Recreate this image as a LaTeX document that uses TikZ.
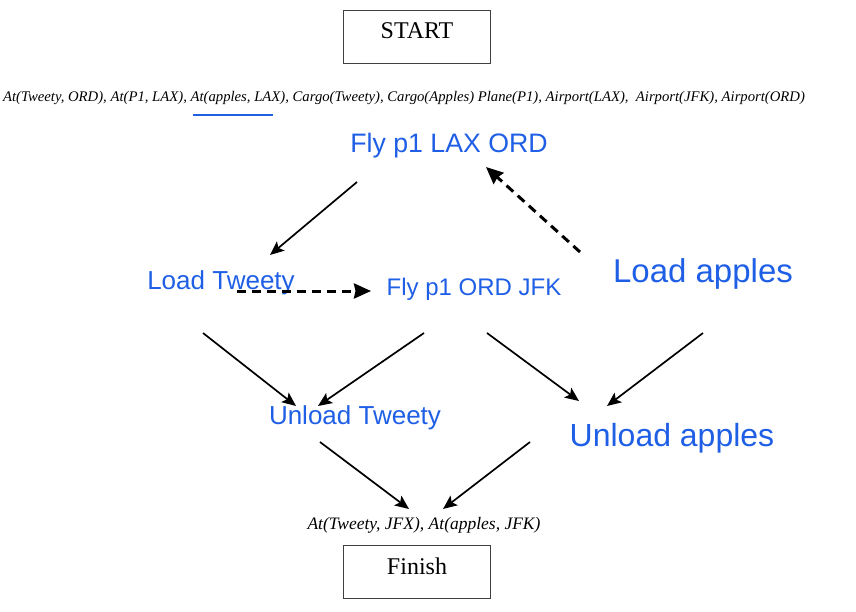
\documentclass[tikz,border=0pt]{standalone}
\usepackage{fontspec}
\setmainfont{Liberation Serif}
\newfontfamily\handfont{Liberation Sans}
\usetikzlibrary{arrows.meta}
\definecolor{inkblue}{HTML}{1F5FE6}
\tikzset{
  boxnode/.style={draw=black!75, line width=0.8pt, minimum width=147pt, minimum height=53pt, inner sep=0pt},
  boxtext/.style={font=\fontsize{24}{28}\selectfont},
  statetext/.style={font=\itshape\fontsize{14.7}{17}\selectfont, inner sep=0pt},
  goaltext/.style={font=\itshape\fontsize{17.5}{20}\selectfont, inner sep=0pt},
  hand/.style={text=inkblue, inner sep=0pt},
  solidarrow/.style={draw=black, line width=1.7pt, -{Stealth[length=14pt,width=12pt,inset=3pt]}},
  dasharrow/.style={draw=black, line width=3pt, dash pattern=on 9pt off 6pt, -{Stealth[length=17pt,width=15pt,inset=1.5pt]}},
}
\newcommand{\handsz}[1]{\handfont\fontsize{#1}{#1}\selectfont}
\begin{document}
\begin{tikzpicture}[x=1pt,y=-1pt]
\useasboundingbox (0,0) rectangle (856,612);
\fill[white] (0,0) rectangle (856,612);

% boxes
\node[boxnode] (start) at (416.5,36.5) {};
\node[boxtext] (starttxt) at (417,31) {START};
\node[boxnode] (finish) at (416.5,572) {};
\node[boxtext] (finishtxt) at (417,566) {Finish};

% state texts
\node[statetext] (init) at (404,98) {At(Tweety, ORD), At(P1, LAX), At(apples, LAX), Cargo(Tweety), Cargo(Apples) Plane(P1), Airport(LAX),\ \ Airport(JFK), Airport(ORD)};
\coordinate (ulA) at (193,115);
\coordinate (ulB) at (273,115);
\draw[inkblue, line width=1.6pt] (ulA) -- (ulB);
\node[goaltext] (goal) at (424,525) {At(Tweety, JFX), At(apples, JFK)};

% handwritten actions
\node[hand, font=\handsz{26.7}] (flyA) at (449,146) {Fly p1 LAX ORD};
\node[hand, font=\handsz{26}] (loadT) at (221,283) {Load Tweety};
\node[hand, font=\handsz{24}] (flyB) at (474,289) {Fly p1 ORD JFK};
\node[hand, font=\handsz{33}] (loadA) at (703,274) {Load apples};
\node[hand, font=\handsz{26}] (unloadT) at (355,418) {Unload Tweety};
\node[hand, font=\handsz{32}] (unloadA) at (672,438) {Unload apples};

% connector end points
\coordinate (flyAout) at (357,182);
\coordinate (loadTin) at (270,255);
\coordinate (loadTdash) at (237,291);
\coordinate (flyBdash) at (371,291);
\coordinate (loadAdash) at (580,252);
\coordinate (flyAdash) at (486,167);
\coordinate (loadTout) at (203,333);
\coordinate (unloadTinL) at (296,406);
\coordinate (flyBoutL) at (424,333);
\coordinate (unloadTinR) at (318,406);
\coordinate (flyBoutR) at (487,333);
\coordinate (unloadAinL) at (579,401);
\coordinate (loadAout) at (703,333);
\coordinate (unloadAinR) at (607,406);
\coordinate (unloadTout) at (320,442);
\coordinate (goalinL) at (409,509);
\coordinate (unloadAout) at (530,442);
\coordinate (goalinR) at (443,509);

\draw[solidarrow] (flyAout) -- (loadTin);
\draw[dasharrow] (loadTdash) -- (flyBdash);
\draw[dasharrow] (loadAdash) -- (flyAdash);
\draw[solidarrow] (loadTout) -- (unloadTinL);
\draw[solidarrow] (flyBoutL) -- (unloadTinR);
\draw[solidarrow] (flyBoutR) -- (unloadAinL);
\draw[solidarrow] (loadAout) -- (unloadAinR);
\draw[solidarrow] (unloadTout) -- (goalinL);
\draw[solidarrow] (unloadAout) -- (goalinR);
\end{tikzpicture}
\end{document}
